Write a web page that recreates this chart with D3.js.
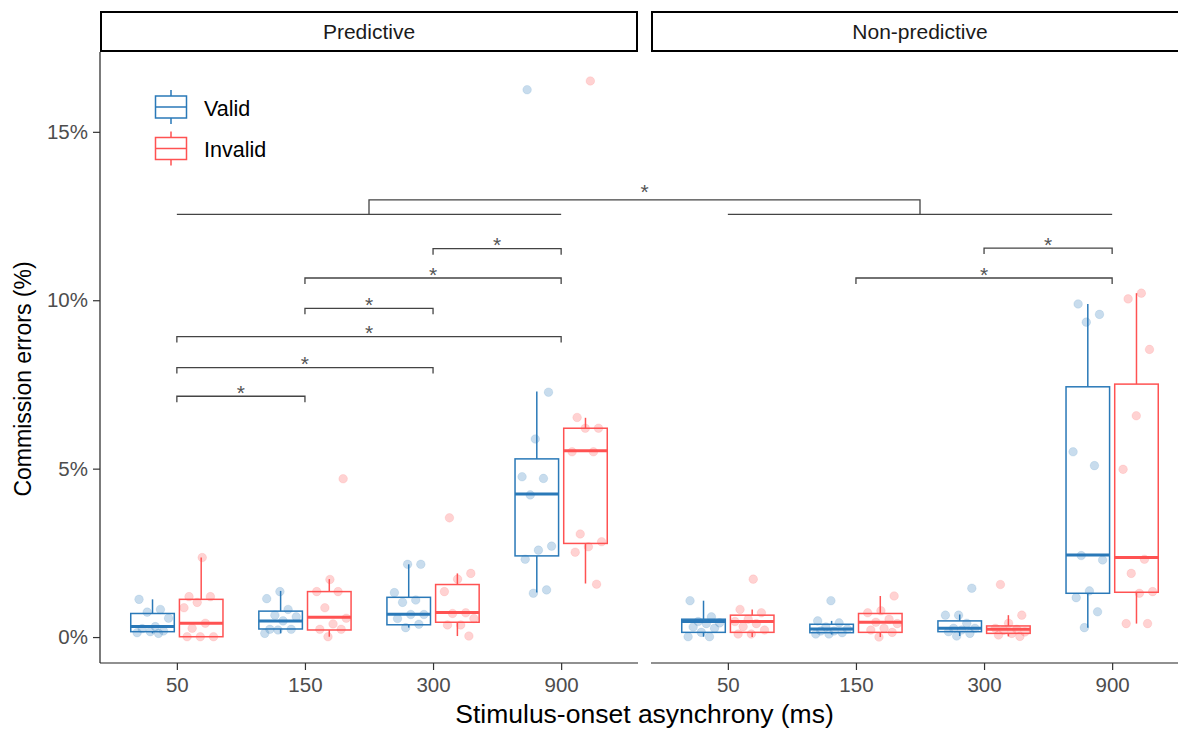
<!DOCTYPE html>
<html>
<head>
<meta charset="utf-8">
<script src="https://cdn.jsdelivr.net/npm/d3@7"></script>
<style>
  html, body { margin: 0; padding: 0; background: #fff; }
  svg { display: block; font-family: "Liberation Sans", Arial, sans-serif; }
</style>
</head>
<body>
<svg id="chart" width="1178" height="730"></svg>
<script>
// ---- data ---------------------------------------------------------------
const panels = ["Predictive", "Non-predictive"];
const soas = ["50", "150", "300", "900"];
const cues = ["Valid", "Invalid"];
const yTicks = [0, 5, 10, 15];

// Box summaries per panel / SOA / cue: [lower whisker, Q1, median, Q3, upper whisker] (%)
const boxPredictiveValid = [
  [0.11, 0.16, 0.31, 0.70, 1.12],
  [0.11, 0.24, 0.48, 0.77, 1.37],
  [0.28, 0.365, 0.674, 1.18, 2.16],
  [1.32, 2.41, 4.25, 5.29, 7.29]
];
const boxPredictiveInvalid = [
  [0.01, 0.01, 0.41, 1.12, 2.36],
  [0.01, 0.21, 0.59, 1.35, 1.72],
  [0.03, 0.44, 0.73, 1.56, 1.89],
  [1.59, 2.78, 5.53, 6.20, 6.51]
];
const boxNonPredictiveValid = [
  [0.01, 0.14, 0.46, 0.53, 1.08],
  [0.08, 0.13, 0.24, 0.38, 0.48],
  [0.03, 0.16, 0.26, 0.48, 0.67],
  [0.28, 1.30, 2.44, 7.43, 9.89]
];
const boxNonPredictiveInvalid = [
  [0.00, 0.14, 0.46, 0.65, 0.82],
  [0.00, 0.14, 0.44, 0.70, 1.22],
  [0.02, 0.11, 0.23, 0.33, 0.65],
  [0.40, 1.33, 2.36, 7.51, 10.21]
];

// Individual participants' commission error rates (%)
const ptsPredictiveValid = [
  [1.12, 0.82, 0.74, 0.56, 0.31, 0.25, 0.18, 0.16, 0.13, 0.11],
  [1.35, 1.14, 0.82, 0.65, 0.60, 0.48, 0.23, 0.23, 0.21, 0.11],
  [2.16, 2.16, 1.32, 1.10, 1.03, 0.67, 0.67, 0.55, 0.38, 0.28],
  [16.25, 7.27, 5.88, 4.76, 4.71, 4.22, 2.70, 2.58, 2.31, 1.40, 1.30]
];
const ptsPredictiveInvalid = [
  [2.36, 1.20, 1.20, 1.03, 0.87, 0.41, 0.26, 0.01, 0.01, 0.01],
  [4.70, 1.71, 1.35, 1.35, 0.87, 0.56, 0.39, 0.23, 0.23, 0.01],
  [3.54, 1.89, 1.72, 1.35, 0.72, 0.70, 0.55, 0.36, 0.36, 0.03],
  [16.51, 6.52, 6.20, 6.20, 5.50, 5.50, 3.06, 2.83, 2.68, 2.52, 1.57]
];
const ptsNonPredictiveValid = [
  [1.08, 0.60, 0.46, 0.42, 0.40, 0.30, 0.26, 0.14, 0.01, 0.01],
  [1.08, 0.48, 0.42, 0.30, 0.24, 0.18, 0.18, 0.13, 0.09, 0.09],
  [1.45, 0.65, 0.65, 0.41, 0.26, 0.26, 0.21, 0.16, 0.11, 0.03],
  [9.89, 9.58, 9.35, 5.50, 5.09, 2.42, 2.29, 1.37, 1.17, 0.75, 0.28]
];
const ptsNonPredictiveInvalid = [
  [1.72, 0.82, 0.72, 0.53, 0.46, 0.40, 0.31, 0.21, 0.09, 0.09],
  [1.22, 0.78, 0.72, 0.53, 0.44, 0.40, 0.26, 0.21, 0.14, 0.00],
  [1.56, 0.65, 0.41, 0.26, 0.23, 0.20, 0.15, 0.11, 0.06, 0.02],
  [10.21, 10.04, 8.54, 6.57, 4.98, 2.31, 1.89, 1.35, 1.30, 0.40, 0.40]
];

// Pairwise comparisons within a panel: [panel, SOA from, SOA to, bracket height (%)]
const withinBrackets = [
  ["Predictive", "50", "150", 7.15],
  ["Predictive", "50", "300", 8.00],
  ["Predictive", "50", "900", 8.92],
  ["Predictive", "150", "300", 9.76],
  ["Predictive", "150", "900", 10.66],
  ["Predictive", "300", "900", 11.53],
  ["Non-predictive", "150", "900", 10.66],
  ["Non-predictive", "300", "900", 11.55]
];
// Predictive vs non-predictive comparison: span line height, bracket top height (%)
const betweenSpan = ["50", "900", 12.55];
const betweenTop = 12.98;

// ---- layout -------------------------------------------------------------
const cueColor = { Valid: "#2A79B8", Invalid: "#FF5252" };
const panelBox = { "Predictive": [100, 638], "Non-predictive": [651, 1189] };
const plotTop = 52, plotBottom = 663;
const stripTop = 11;
const svg = d3.select("#chart");

const y = d3.scaleLinear().domain([-0.77, 17.37]).range([plotBottom, plotTop]);
const xScales = {};
panels.forEach(p => {
  xScales[p] = d3.scalePoint().domain(soas).range(panelBox[p]).padding(0.6);
});
const cueOffset = d3.scalePoint().domain(cues).range([-0.19, 0.19]);

const boxes = {
  "Predictive": { Valid: boxPredictiveValid, Invalid: boxPredictiveInvalid },
  "Non-predictive": { Valid: boxNonPredictiveValid, Invalid: boxNonPredictiveInvalid }
};
const points = {
  "Predictive": { Valid: ptsPredictiveValid, Invalid: ptsPredictiveInvalid },
  "Non-predictive": { Valid: ptsNonPredictiveValid, Invalid: ptsNonPredictiveInvalid }
};

// strips
panels.forEach(p => {
  const [x0, x1] = panelBox[p];
  const g = svg.append("g");
  g.append("rect")
    .attr("x", x0 + 1).attr("y", stripTop + 1)
    .attr("width", x1 - x0 - 2).attr("height", plotTop - stripTop - 2)
    .attr("fill", "#fff").attr("stroke", "#000").attr("stroke-width", 2);
  g.append("text")
    .attr("x", (x0 + x1) / 2).attr("y", (stripTop + plotTop) / 2 + 7.5)
    .attr("text-anchor", "middle").attr("font-size", 21).attr("fill", "#1a1a1a")
    .text(p);
});

// y axis (left panel only)
const yAxis = svg.append("g").attr("transform", `translate(${panelBox["Predictive"][0]},0)`)
  .call(d3.axisLeft(y).tickValues(yTicks).tickFormat(d => d + "%").tickSize(7).tickPadding(5));
yAxis.select(".domain").attr("stroke", "#222").attr("stroke-width", 1.2)
  .attr("d", `M0,${plotTop}V${plotBottom}`);
yAxis.selectAll(".tick line").attr("stroke", "#333").attr("stroke-width", 1.2);
yAxis.selectAll(".tick text").attr("font-size", 20.5).attr("fill", "#4d4d4d")
  .attr("font-family", "Liberation Sans, Arial, sans-serif");

// x axes
panels.forEach(p => {
  const xs = xScales[p];
  const ax = svg.append("g").attr("transform", `translate(0,${plotBottom})`)
    .call(d3.axisBottom(xs).tickSize(7).tickPadding(7));
  ax.select(".domain").attr("stroke", "#222").attr("stroke-width", 1.2)
    .attr("d", `M${panelBox[p][0]},0H${panelBox[p][1]}`);
  ax.selectAll(".tick line").attr("stroke", "#333").attr("stroke-width", 1.2);
  ax.selectAll(".tick text").attr("font-size", 20.5).attr("fill", "#4d4d4d")
    .attr("font-family", "Liberation Sans, Arial, sans-serif");
});

// axis titles
svg.append("text")
  .attr("x", (panelBox["Predictive"][0] + panelBox["Non-predictive"][1]) / 2)
  .attr("y", 723).attr("text-anchor", "middle").attr("font-size", 26.5).attr("fill", "#000")
  .text("Stimulus-onset asynchrony (ms)");
svg.append("text")
  .attr("transform", "translate(31,379) rotate(-90)")
  .attr("text-anchor", "middle").attr("font-size", 23).attr("fill", "#000")
  .text("Commission errors (%)");

// boxes, whiskers, medians
const plot = svg.append("g");
panels.forEach(p => {
  const xs = xScales[p];
  const step = xs.step();
  const bw = 0.34 * step;
  cues.forEach(c => {
    boxes[p][c].forEach((b, i) => {
      const cx = xs(soas[i]) + cueOffset(c) * step;
      const [lo, q1, med, q3, hi] = b;
      const g = plot.append("g").attr("stroke", cueColor[c]).attr("fill", "none");
      g.append("line").attr("x1", cx).attr("x2", cx).attr("y1", y(q3)).attr("y2", y(hi)).attr("stroke-width", 1.5);
      g.append("line").attr("x1", cx).attr("x2", cx).attr("y1", y(q1)).attr("y2", y(lo)).attr("stroke-width", 1.5);
      g.append("rect").attr("x", cx - bw / 2).attr("width", bw)
        .attr("y", y(q3)).attr("height", Math.max(0.5, y(q1) - y(q3))).attr("stroke-width", 1.5);
      g.append("line").attr("x1", cx - bw / 2).attr("x2", cx + bw / 2)
        .attr("y1", y(med)).attr("y2", y(med)).attr("stroke-width", 3);
    });
  });
});

// jittered participant points (fixed low-discrepancy horizontal spread)
panels.forEach(p => {
  const xs = xScales[p];
  const step = xs.step();
  cues.forEach(c => {
    points[p][c].forEach((vals, i) => {
      const cx = xs(soas[i]) + cueOffset(c) * step;
      plot.append("g").selectAll("circle").data(vals).join("circle")
        .attr("cx", (d, k) => cx + (((k * 0.618034 + 0.37 * i + (c === "Valid" ? 0.11 : 0.53)) % 1) - 0.5) * 0.27 * step)
        .attr("cy", d => y(d))
        .attr("r", 4.3)
        .attr("fill", cueColor[c]).attr("fill-opacity", 0.26)
        .attr("stroke", cueColor[c]).attr("stroke-opacity", 0.12);
    });
  });
});

// significance brackets
const brk = svg.append("g").attr("stroke", "#444").attr("stroke-width", 1.3).attr("fill", "none");
const stars = svg.append("g").attr("fill", "#555").attr("font-size", 21).attr("text-anchor", "middle");
withinBrackets.forEach(([p, a, b, v]) => {
  const xs = xScales[p];
  const yy = y(v);
  brk.append("path").attr("d", `M${xs(a)},${yy + 6}V${yy}H${xs(b)}V${yy + 6}`);
  stars.append("text").attr("x", (xs(a) + xs(b)) / 2).attr("y", yy + 3.5).text("*");
});
const mids = panels.map(p => {
  const xs = xScales[p];
  const ys = y(betweenSpan[2]);
  brk.append("path").attr("d", `M${xs(betweenSpan[0])},${ys}H${xs(betweenSpan[1])}`);
  return (xs(betweenSpan[0]) + xs(betweenSpan[1])) / 2;
});
{
  const ys = y(betweenSpan[2]), yt = y(betweenTop);
  brk.append("path").attr("d", `M${mids[0]},${ys}V${yt}H${mids[1]}V${ys}`);
  stars.append("text").attr("x", (mids[0] + mids[1]) / 2).attr("y", yt - 0.5).text("*");
}

// legend
const legend = svg.append("g").attr("transform", "translate(155,90)");
cues.forEach((c, i) => {
  const g = legend.append("g").attr("transform", `translate(0,${i * 41.5})`)
    .attr("stroke", cueColor[c]).attr("fill", "none").attr("stroke-width", 1.5);
  g.append("line").attr("x1", 16).attr("x2", 16).attr("y1", 0).attr("y2", 6);
  g.append("line").attr("x1", 16).attr("x2", 16).attr("y1", 28).attr("y2", 34);
  g.append("rect").attr("x", 0.5).attr("y", 6).attr("width", 31).attr("height", 22);
  g.append("line").attr("x1", 0.5).attr("x2", 31.5).attr("y1", 17).attr("y2", 17);
  legend.append("text").attr("x", 49).attr("y", i * 41.5 + 25.5)
    .attr("font-size", 21.5).attr("fill", "#000").text(c);
});
</script>
</body>
</html>
